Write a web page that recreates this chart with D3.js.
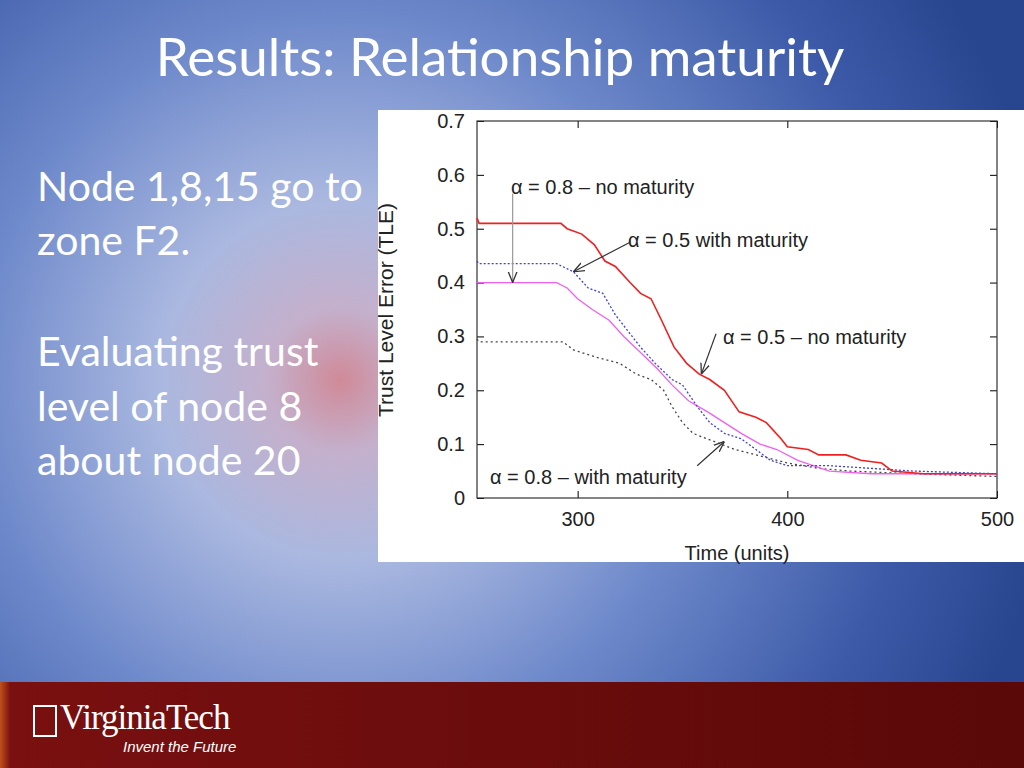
<!DOCTYPE html><html><head><meta charset="utf-8"><script src="https://d3js.org/d3.v7.min.js"></script>
<style>body{margin:0;overflow:hidden}svg{display:block}</style></head><body><svg width="1024" height="768"></svg>
<script>
const redX=[252,253,292,295,302,308,313,318,325,330,335,340,346,352,358,363,370,377,385,390,397,400,410,415,428,435,445,450,465,500];
const redY=[0.52,0.51,0.51,0.50,0.49,0.47,0.44,0.43,0.40,0.38,0.37,0.33,0.28,0.25,0.23,0.22,0.20,0.16,0.15,0.14,0.11,0.095,0.09,0.08,0.08,0.07,0.065,0.05,0.045,0.045];
const blueX=[252,253,290,298,305,312,318,324,330,337,345,350,357,363,370,378,385,392,400,420,440,460,500];
const blueY=[0.44,0.435,0.435,0.42,0.39,0.38,0.34,0.31,0.28,0.25,0.22,0.21,0.17,0.14,0.12,0.11,0.09,0.07,0.06,0.06,0.055,0.05,0.045];
const magX=[252,290,295,300,307,315,322,330,338,345,353,362,370,378,387,395,405,420,440,500];
const magY=[0.40,0.40,0.39,0.37,0.35,0.33,0.30,0.27,0.24,0.21,0.18,0.16,0.14,0.12,0.10,0.09,0.07,0.05,0.045,0.045];
const blkX=[252,253,293,298,310,320,328,335,341,345,350,355,365,375,390,400,415,430,460,500];
const blkY=[0.295,0.29,0.29,0.275,0.26,0.25,0.23,0.22,0.20,0.17,0.14,0.12,0.105,0.09,0.075,0.065,0.055,0.05,0.045,0.04];
const xTicks=[300,400,500], yTicks=[0,0.1,0.2,0.3,0.4,0.5,0.6,0.7];
const svg=d3.select("svg");
const defs=svg.append("defs");
const g=defs.append("radialGradient").attr("id","bg").attr("gradientUnits","userSpaceOnUse").attr("cx",340).attr("cy",380).attr("r",720);
[[0,"#d08a98"],[0.1,"#c4b0cc"],[0.25,"#aab8e0"],[0.5,"#6f8acb"],[0.8,"#3c5aa8"],[1,"#28468f"]].forEach(([o,c])=>g.append("stop").attr("offset",o).attr("stop-color",c));
svg.append("rect").attr("width",1024).attr("height",768).attr("fill","url(#bg)");
const fg=defs.append("linearGradient").attr("id","ft").attr("x1",0).attr("x2",1);
[[0,"#c0501a"],[0.01,"#7a1010"],[1,"#5a0808"]].forEach(([o,c])=>fg.append("stop").attr("offset",o).attr("stop-color",c));
svg.append("rect").attr("y",682).attr("width",1024).attr("height",86).attr("fill","url(#ft)");
svg.append("text").attr("x",500).attr("y",76).attr("text-anchor","middle").attr("font-family","Lato").attr("font-size",53).attr("fill","#fff").text("Results: Relationship maturity");
const lt=svg.append("g").attr("font-family","Lato").attr("font-size",41).attr("fill","#fff");
[["Node 1,8,15 go to",201],["zone F2.",255],["Evaluating trust",366],["level of node 8",421],["about node 20",475]].forEach(([t,y])=>lt.append("text").attr("x",37).attr("y",y).text(t));
svg.append("text").attr("x",60).attr("y",729).attr("font-family","Liberation Serif").attr("font-size",35).attr("letter-spacing",-1).attr("fill","#fff").text("VirginiaTech");
svg.append("rect").attr("x",34).attr("y",706).attr("width",22).attr("height",30).attr("fill","none").attr("stroke","#fff").attr("stroke-width",2);
svg.append("text").attr("x",123).attr("y",752).attr("font-family","Liberation Sans").attr("font-style","italic").attr("font-size",15).attr("fill","#fff").text("Invent the Future");
svg.append("rect").attr("x",378).attr("y",110).attr("width",646).attr("height",452).attr("fill","#fff");
const x=d3.scaleLinear().domain([252,500]).range([477,997]);
const y=d3.scaleLinear().domain([0,0.7]).range([498,121]);
const c=svg.append("g").attr("font-family","Liberation Sans");
c.append("g").attr("transform","translate(0,498)").call(d3.axisBottom(x).tickValues(xTicks).tickSize(-7).tickPadding(14)).call(a=>{a.select(".domain").remove();a.selectAll("text").attr("font-size",20).attr("fill","#222")});
c.append("g").attr("transform","translate(0,121)").call(d3.axisTop(x).tickValues(xTicks).tickSize(-7).tickFormat("")).call(a=>a.select(".domain").remove());
c.append("g").attr("transform","translate(477,0)").call(d3.axisLeft(y).tickValues(yTicks).tickSize(-7).tickPadding(12).tickFormat(d=>d===0?"0":d3.format(".1f")(d))).call(a=>{a.select(".domain").remove();a.selectAll("text").attr("font-size",20).attr("fill","#222")});
c.append("g").attr("transform","translate(997,0)").call(d3.axisRight(y).tickValues(yTicks).tickSize(-7).tickFormat("")).call(a=>a.select(".domain").remove());
c.append("rect").attr("x",477).attr("y",121).attr("width",520).attr("height",377).attr("fill","none").attr("stroke","#333").attr("stroke-width",1.2);
const line=d3.line().x(d=>x(d[0])).y(d=>y(d[1]));
const z=(a,b)=>a.map((v,i)=>[v,b[i]]);
[[blkX,blkY,"#444","2,3",1.3],[magX,magY,"#f060f0",null,1.3],[blueX,blueY,"#4040e0","2,2",1.3],[redX,redY,"#f02020",null,1.6]].forEach(([a,b,col,da,w])=>
 c.append("path").attr("d",line(z(a,b))).attr("fill","none").attr("stroke",col).attr("stroke-width",w).attr("stroke-dasharray",da));
c.append("text").attr("transform","translate(393,310) rotate(-90)").attr("text-anchor","middle").attr("font-size",21).attr("fill","#222").text("Trust Level Error (TLE)");
c.append("text").attr("x",737).attr("y",560).attr("text-anchor","middle").attr("font-size",20).attr("fill","#222").text("Time (units)");
defs.append("marker").attr("id","ar").attr("viewBox","0 0 10 10").attr("refX",10).attr("refY",5).attr("markerWidth",9).attr("markerHeight",9).attr("orient","auto").append("path").attr("d","M0,1L10,5L0,9").attr("fill","none").attr("stroke","#333").attr("stroke-width",1.2);
const ann=[["\u03b1 = 0.8 \u2013 no maturity",511,194,[269,0.565],[269,0.4]],["\u03b1 = 0.5 with maturity",628,247,[325,0.475],[298,0.42]],["\u03b1 = 0.5 \u2013 no maturity",723,344,[366,0.305],[359,0.23]],["\u03b1 = 0.8 \u2013 with maturity",490,484,[357,0.06],[370,0.105]]];
ann.forEach(([t,tx,ty,p0,p1])=>{c.append("text").attr("x",tx).attr("y",ty).attr("font-size",20).attr("fill","#222").text(t);
 c.append("line").attr("x1",x(p0[0])).attr("y1",y(p0[1])).attr("x2",x(p1[0])).attr("y2",y(p1[1])).attr("stroke",t.includes("no maturity")&&tx<600?"#999":"#333").attr("stroke-width",1.2).attr("marker-end","url(#ar)");});
</script></body></html>
